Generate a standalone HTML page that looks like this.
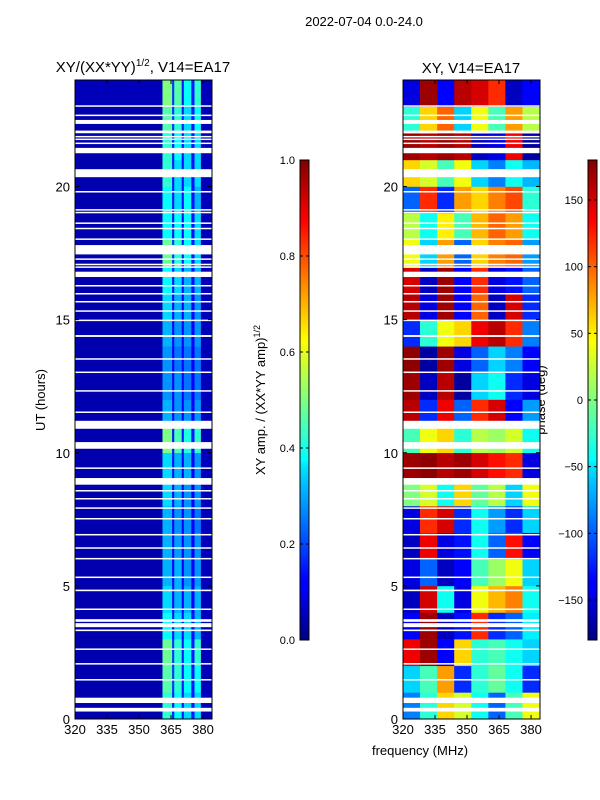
<!DOCTYPE html>
<html><head><meta charset="utf-8"><style>
body{margin:0;background:#fff;}
svg{display:block;font-family:"Liberation Sans",sans-serif;}
</style></head><body>
<svg id="fig" width="600" height="800" xmlns="http://www.w3.org/2000/svg">
<rect width="600" height="800" fill="#fff"/>
<text x="364" y="26" font-size="13" text-anchor="middle">2022-07-04 0.0-24.0</text>
<text x="143" y="72" font-size="15" text-anchor="middle">XY/(XX*YY)<tspan font-size="10" dy="-6">1/2</tspan><tspan dy="6">, V14=EA17</tspan></text>
<text x="471" y="73" font-size="15" text-anchor="middle">XY, V14=EA17</text>
<text transform="translate(45,400) rotate(-90)" font-size="13" text-anchor="middle">UT (hours)</text>
<text x="420" y="755" font-size="13" text-anchor="middle">frequency (MHz)</text>
<text transform="translate(265,400) rotate(-90)" font-size="13" text-anchor="middle">XY amp. / (XX*YY amp)<tspan font-size="9" dy="-5">1/2</tspan></text>
<text transform="translate(545,400) rotate(-90)" font-size="13" text-anchor="middle">phase (deg)</text>
<defs>
<linearGradient id="jet" x1="0" y1="1" x2="0" y2="0">
<stop offset="0" stop-color="#000080"/><stop offset="0.11" stop-color="#0000ff"/><stop offset="0.125" stop-color="#0000ff"/>
<stop offset="0.36" stop-color="#00e0ff"/><stop offset="0.375" stop-color="#00ffff"/><stop offset="0.5" stop-color="#80ff80"/>
<stop offset="0.625" stop-color="#ffff00"/><stop offset="0.875" stop-color="#ff0000"/><stop offset="1" stop-color="#800000"/>
</linearGradient></defs>
<g id="left"></g>
<g id="right"></g>
<g id="axes"></g>
</svg>
<script>
// ---- data ----
const leftBands = [[320,361],[361,365.5],[365.5,366.5],[366.5,370],[370,371],[371,374.5],[374.5,376],[376,379],[379,384]];
// amplitude per hour (0..23) per band
const leftAmp = [
[0.04,0.42,0.15,0.38,0.15,0.34,0.15,0.34,0.05],
[0.04,0.46,0.18,0.42,0.15,0.38,0.15,0.38,0.05],
[0.04,0.48,0.18,0.42,0.15,0.38,0.15,0.42,0.05],
[0.04,0.38,0.15,0.34,0.14,0.34,0.14,0.3,0.05],
[0.04,0.34,0.14,0.3,0.12,0.3,0.12,0.3,0.05],
[0.04,0.3,0.13,0.3,0.12,0.27,0.12,0.27,0.05],
[0.04,0.3,0.13,0.28,0.12,0.27,0.12,0.27,0.05],
[0.04,0.3,0.13,0.27,0.12,0.27,0.12,0.24,0.05],
[0.04,0.34,0.14,0.3,0.12,0.27,0.12,0.27,0.05],
[0.04,0.34,0.14,0.3,0.12,0.3,0.12,0.27,0.05],
[0.04,0.5,0.15,0.45,0.15,0.4,0.15,0.42,0.05],
[0.04,0.3,0.13,0.27,0.12,0.27,0.12,0.27,0.05],
[0.04,0.27,0.12,0.27,0.12,0.24,0.12,0.24,0.05],
[0.04,0.27,0.12,0.24,0.12,0.24,0.12,0.24,0.05],
[0.04,0.3,0.13,0.27,0.12,0.27,0.12,0.27,0.05],
[0.04,0.34,0.14,0.3,0.12,0.3,0.12,0.27,0.05],
[0.04,0.38,0.15,0.34,0.14,0.3,0.14,0.3,0.05],
[0.04,0.48,0.18,0.42,0.15,0.38,0.15,0.34,0.05],
[0.04,0.38,0.15,0.38,0.14,0.38,0.14,0.34,0.05],
[0.04,0.38,0.15,0.34,0.14,0.38,0.14,0.3,0.05],
[0.04,0.42,0.15,0.34,0.14,0.34,0.14,0.34,0.05],
[0.04,0.42,0.15,0.38,0.14,0.34,0.14,0.34,0.05],
[0.04,0.46,0.18,0.42,0.15,0.34,0.15,0.38,0.05],
[0.05,0.5,0.18,0.46,0.15,0.38,0.15,0.42,0.05]
];
const rightBands = [[320,328],[328,336],[336,344],[344,352],[352,360],[360,368],[368,376],[376,384]];
// phase (deg) per hour (0..23) per band
const phase = [
[-90,-30,60,30,-40,-100,-20,40],
[-60,-20,80,-120,-30,-10,-40,-120],
[140,170,-140,60,-30,-20,-40,-60],
[-140,170,-160,-130,120,-120,-100,-50],
[-160,150,-40,-150,40,70,90,-40],
[-150,-100,-160,-140,-20,10,40,-60],
[-160,140,-150,-130,-40,-100,130,-140],
[-150,120,150,-120,-40,-80,-120,-60],
[0,30,-40,60,-10,20,-60,40],
[170,175,160,170,150,130,120,-150],
[-20,40,60,-30,20,10,30,-40],
[160,-120,140,-100,120,150,-140,-80],
[170,-160,160,-170,-60,-40,-120,-150],
[175,-170,170,-150,-100,-60,-90,-140],
[-120,-30,40,60,140,160,120,-90],
[160,-150,170,-140,100,-160,150,-120],
[150,-160,170,-140,120,-150,-130,-100],
[40,-60,80,-100,60,90,100,-80],
[20,-40,50,-20,70,100,80,-40],
[-100,120,-120,80,60,90,110,-30],
[60,30,-20,40,-60,-90,-40,-70],
[170,160,170,160,-160,-150,140,-170],
[-30,60,100,-60,40,-20,80,20],
[-150,170,-140,160,150,120,-160,-140]
];
const flags = [[0.28,0.42],[0.6,0.8],[1.45,1.5],[2.05,2.1],[2.6,2.65],[3.3,3.36],[3.45,3.6],[3.65,3.75],[4.1,4.15],[4.8,4.86],[5.3,5.35],[6.0,6.05],[6.4,6.45],[6.9,6.95],[7.5,7.55],[7.9,7.95],[8.25,8.3],[8.55,8.6],[8.8,9.05],[9.4,9.45],[10.15,10.4],[10.9,11.2],[11.5,11.55],[12.3,12.35],[13.0,13.05],[13.5,13.55],[14.35,14.42],[14.95,15.0],[15.3,15.35],[15.65,15.7],[15.95,16.0],[16.25,16.3],[16.6,16.8],[16.95,17.0],[17.05,17.1],[17.25,17.3],[17.45,17.8],[18.0,18.05],[18.4,18.45],[18.6,18.65],[19.0,19.05],[19.1,19.15],[19.78,19.83],[20.35,20.65],[21.25,21.45],[21.6,21.65],[21.75,21.8],[21.85,21.9],[22.0,22.1],[22.35,22.5],[22.65,22.7],[23.0,23.05]];
const xTicks = [320,335,350,365,380];
const yTicks = [0,5,10,15,20];
const ampTicks = [0.0,0.2,0.4,0.6,0.8,1.0];
const phaseTicks = [-150,-100,-50,0,50,100,150];

// ---- helpers ----
const NS="http://www.w3.org/2000/svg";
const Y0=719, Y1=80;
const yScale = h => Y0 - (h/24)*(Y0-Y1);
const xScaleL = f => 75 + (f-320)/(384.2-320)*137;
const xScaleR = f => 403 + (f-320)/(384.2-320)*137;
const jetStops=[[0,[0,0,128]],[0.11,[0,0,255]],[0.125,[0,0,255]],[0.375,[0,255,255]],[0.5,[128,255,128]],[0.625,[255,255,0]],[0.875,[255,0,0]],[1,[128,0,0]]];
function jet(t){t=Math.max(0,Math.min(1,t));for(let i=1;i<jetStops.length;i++){if(t<=jetStops[i][0]){const a=jetStops[i-1],b=jetStops[i];const u=(t-a[0])/(b[0]-a[0]||1);const c=a[1].map((v,k)=>Math.round(v+(b[1][k]-v)*u));return `rgb(${c})`;}}return 'rgb(128,0,0)';}
function mk(tag,attrs,parent){const e=document.createElementNS(NS,tag);for(const k in attrs)e.setAttribute(k,attrs[k]);parent.appendChild(e);return e;}

const L=document.getElementById('left'), R=document.getElementById('right'), A=document.getElementById('axes');
leftAmp.forEach((row,h)=>row.forEach((v,b)=>{
  const x0=xScaleL(leftBands[b][0]), x1=xScaleL(leftBands[b][1]);
  const r=mk('rect',{x:x0,y:yScale(h+1),width:x1-x0+0.3,height:yScale(h)-yScale(h+1)+0.3,fill:jet(v)},L);
  
  
}));
phase.forEach((row,h)=>row.forEach((v,b)=>{
  const x0=xScaleR(rightBands[b][0]), x1=xScaleR(rightBands[b][1]);
  const r=mk('rect',{x:x0,y:yScale(h+1),width:x1-x0+0.3,height:yScale(h)-yScale(h+1)+0.3,fill:jet((v+180)/360)},R);
  
  
}));
[[75,L],[403,R]].forEach(([px,g])=>flags.forEach(f=>{
  const r=mk('rect',{x:px,y:yScale(f[1]),width:137,height:Math.max(1.5,yScale(f[0])-yScale(f[1])),fill:'#fff'},g);
  
  
}));
// frames & ticks
[[75,xScaleL],[403,xScaleR]].forEach(([px,xs])=>{
  const fr=mk('rect',{x:px,y:Y1,width:137,height:Y0-Y1,fill:'none',stroke:'#000','stroke-width':1},A);
  
  
  xTicks.forEach(t=>{const x=xs(t);
    mk('line',{x1:x,x2:x,y1:Y0,y2:Y0-4,stroke:'#000'},A);mk('line',{x1:x,x2:x,y1:Y1,y2:Y1+4,stroke:'#000'},A);
    const tx=mk('text',{x:x,y:Y0+15,'font-size':13,'text-anchor':'middle'},A);tx.textContent=t;
    
    });
  yTicks.forEach(t=>{const y=yScale(t);
    mk('line',{x1:px,x2:px+4,y1:y,y2:y,stroke:'#000'},A);mk('line',{x1:px+137,x2:px+133,y1:y,y2:y,stroke:'#000'},A);
    const tx=mk('text',{x:px-5,y:y+5,'font-size':13,'text-anchor':'end'},A);tx.textContent=t;
    
    });
});
// colorbars
[[300,ampTicks,v=>640-v*480,v=>v.toFixed(1)],[588,phaseTicks,v=>160+(180-v)/360*480,v=>v<0?'\u2212'+(-v):String(v)]].forEach(([cx,ticks,ys,fmt])=>{
  const cb=mk('rect',{x:cx,y:160,width:9,height:480,fill:'url(#jet)',stroke:'#000','stroke-width':1},A);
  
  
  ticks.forEach(v=>{const y=ys(v);
    mk('line',{x1:cx,x2:cx+3,y1:y,y2:y,stroke:'#000'},A);mk('line',{x1:cx+9,x2:cx+6,y1:y,y2:y,stroke:'#000'},A);
    const tx=mk('text',{x:cx-5,y:y+4,'font-size':11,'text-anchor':'end'},A);tx.textContent=fmt(v);
    
    });
});
</script>
</body></html>
